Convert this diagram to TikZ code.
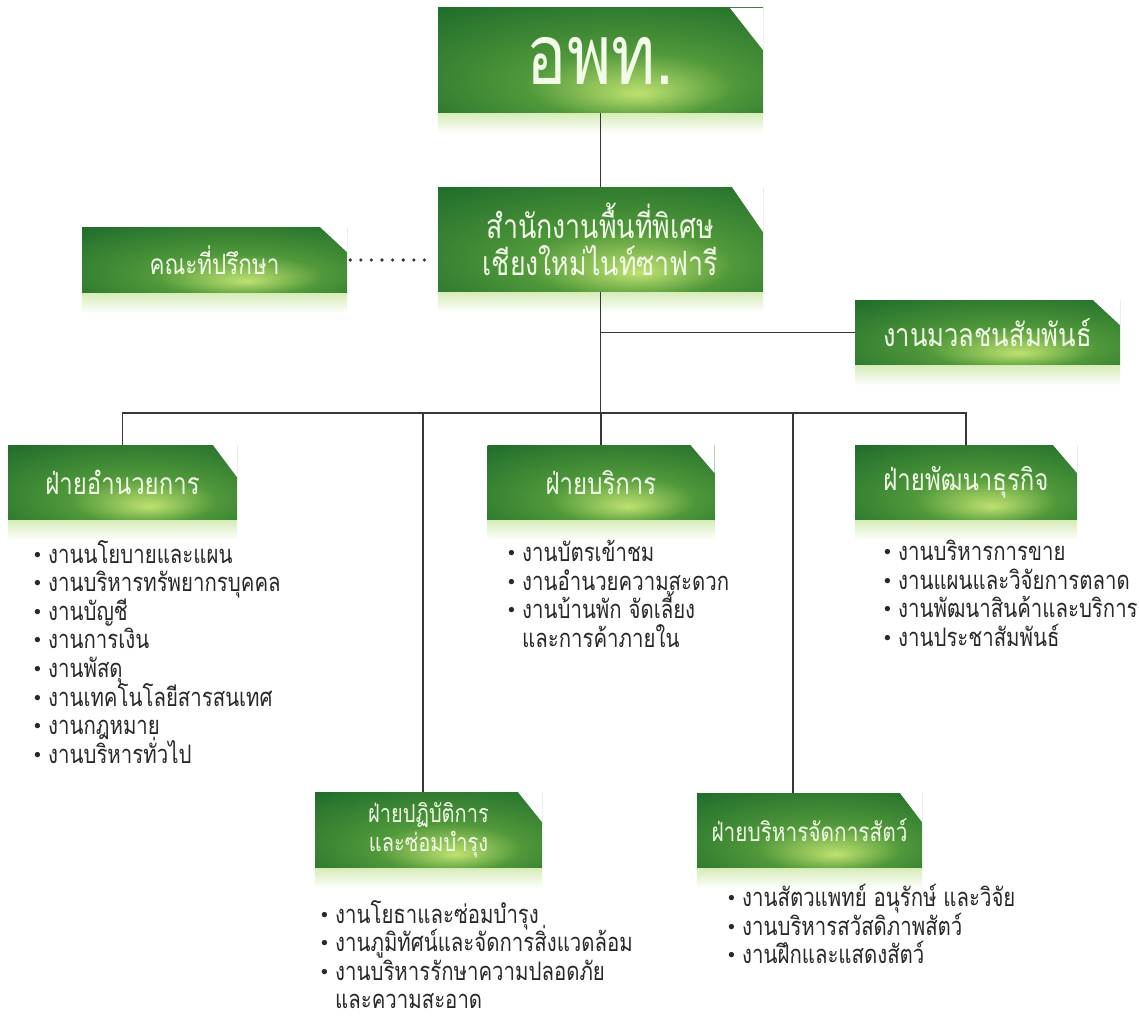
\documentclass[tikz,border=0pt]{standalone}
\usepackage{fontspec}
\usepackage{graphicx}
\setmainfont{Loma}[Script=Thai,FakeStretch=0.8]
\setlength{\lineskiplimit}{-50pt}
\definecolor{boxdark}{RGB}{28,106,42}
\definecolor{boxmid}{RGB}{80,152,58}
\definecolor{boxlight}{RGB}{190,225,112}
\definecolor{glow}{RGB}{214,236,184}
\definecolor{boxtext}{RGB}{242,250,232}
\definecolor{wire}{RGB}{55,55,55}
\definecolor{itemtext}{RGB}{40,40,40}
\pgfdeclareradialshading{boxshade}{\pgfpoint{6bp}{-16bp}}{color(0bp)=(boxlight); color(16bp)=(boxmid); color(42bp)=(boxdark); color(60bp)=(boxdark)}
\newcommand\itm{\makebox[14pt][l]{\raisebox{0.2em}{\scalebox{0.55}{$\bullet$}}}}
\newcommand\cont{\makebox[14pt]{}}

\begin{document}
\begin{tikzpicture}[x=1pt,y=-1pt,
    cut/.code 2 args={\def\cutx{#1}\def\cuty{#2}},
    orgbox/.style={rectangle,inner sep=0pt,text=boxtext,align=center,
      path picture={
        \shade[shading=boxshade] (path picture bounding box.south west)
          rectangle (path picture bounding box.north east);
        \fill[white] ([xshift=-\cutx]path picture bounding box.north east)
          -- (path picture bounding box.north east)
          -- ([yshift=-\cuty]path picture bounding box.north east) -- cycle;}},
    items/.style={inner sep=0pt,align=left,anchor=north west,text=itemtext,
      font=\fontsize{25.5}{28.6}\selectfont},
    wire/.style={draw=wire,line width=1.8pt},
    dots/.style={draw=wire,line width=3.6pt,line cap=round,
      dash pattern=on 0pt off 10.6pt,shorten <=3pt,shorten >=3pt}]

    \useasboundingbox (0,0) rectangle (1139,1022);

    % the boxes

    \node[orgbox,cut={33pt}{42pt},minimum width=325pt,minimum height=105pt,
      font=\fontsize{84}{84}\selectfont] (top) at (600.5,60.5) {อพท.};
    \node[orgbox,cut={31pt}{45pt},minimum width=325pt,minimum height=105pt,
      font=\fontsize{33.5}{37}\selectfont] (mid) at (600.5,239.5)
      {สำนักงานพื้นที่พิเศษ\\เชียงใหม่ไนท์ซาฟารี};
    \node[orgbox,cut={27pt}{25pt},minimum width=265pt,minimum height=66pt,
      font=\fontsize{28}{30}\selectfont] (adv) at (214.5,260) {คณะที่ปรึกษา};
    \node[orgbox,cut={27pt}{25pt},minimum width=265pt,minimum height=65pt,
      font=\fontsize{32}{34}\selectfont] (prs) at (987.5,332.5) {งานมวลชนสัมพันธ์};

    \node[orgbox,cut={24pt}{32pt},minimum width=229pt,minimum height=75pt,
      font=\fontsize{30}{32}\selectfont] (adm) at (122.5,482.5) {ฝ่ายอำนวยการ};
    \node[orgbox,cut={24pt}{28pt},minimum width=227pt,minimum height=75pt,
      font=\fontsize{30}{32}\selectfont] (svc) at (601,482.5) {ฝ่ายบริการ};
    \node[orgbox,cut={24pt}{28pt},minimum width=222pt,minimum height=75pt,
      font=\fontsize{30}{32}\selectfont] (biz) at (966,482.5) {ฝ่ายพัฒนาธุรกิจ};
    \node[orgbox,cut={24pt}{30pt},minimum width=227pt,minimum height=76pt,
      font=\fontsize{25}{29}\selectfont] (ops) at (428.5,830)
      {ฝ่ายปฏิบัติการ\\และซ่อมบำรุง};
    \node[orgbox,cut={22pt}{29pt},minimum width=225pt,minimum height=75pt,
      font=\fontsize{26}{30}\selectfont] (zoo) at (809.5,830.5) {ฝ่ายบริหารจัดการสัตว์};

    \foreach \b in {top,mid,adv,prs,adm,svc,biz,ops,zoo}
      \shade[top color=glow,bottom color=white] (\b.south west)
        rectangle ([yshift=-20pt]\b.south east);

    % the lists

    \node[items] (admlist) at (34,540) {\itm งานนโยบายและแผน\\
      \itm งานบริหารทรัพยากรบุคคล\\ \itm งานบัญชี\\ \itm งานการเงิน\\
      \itm งานพัสดุ\\ \itm งานเทคโนโลยีสารสนเทศ\\ \itm งานกฎหมาย\\
      \itm งานบริหารทั่วไป};
    \node[items] (svclist) at (508,540) {\itm งานบัตรเข้าชม\\
      \itm งานอำนวยความสะดวก\\ \itm งานบ้านพัก จัดเลี้ยง\\
      \cont และการค้าภายใน};
    \node[items] (bizlist) at (884,540) {\itm งานบริหารการขาย\\
      \itm งานแผนและวิจัยการตลาด\\ \itm งานพัฒนาสินค้าและบริการ\\
      \itm งานประชาสัมพันธ์};
    \node[items] (opslist) at (321,900) {\itm งานโยธาและซ่อมบำรุง\\
      \itm งานภูมิทัศน์และจัดการสิ่งแวดล้อม\\
      \itm งานบริหารรักษาความปลอดภัย\\ \cont และความสะอาด};
    \node[items] (zoolist) at (728,884) {\itm งานสัตวแพทย์ อนุรักษ์ และวิจัย\\
      \itm งานบริหารสวัสดิภาพสัตว์\\ \itm งานฝึกและแสดงสัตว์};

    % the lines

    \coordinate (bus) at (601,413);
    \coordinate (opsdrop) at (423,413);
    \coordinate (zoodrop) at (793,413);

    \draw[wire] (top) -- (mid);
    \draw[wire] (mid.south) -- (mid.south |- bus);
    \draw[wire] (mid.south |- prs.west) -- (prs.west);
    \draw[dots] (adv.east) -- (mid.west |- adv.east);
    \draw[wire] (adm.north) |- (bus) -| (biz.north);
    \draw[wire] (svc.north) -- (svc.north |- bus);
    \draw[wire] (opsdrop) -- (opsdrop |- ops.north);
    \draw[wire] (zoodrop) -- (zoodrop |- zoo.north);
  \end{tikzpicture}
\end{document}
